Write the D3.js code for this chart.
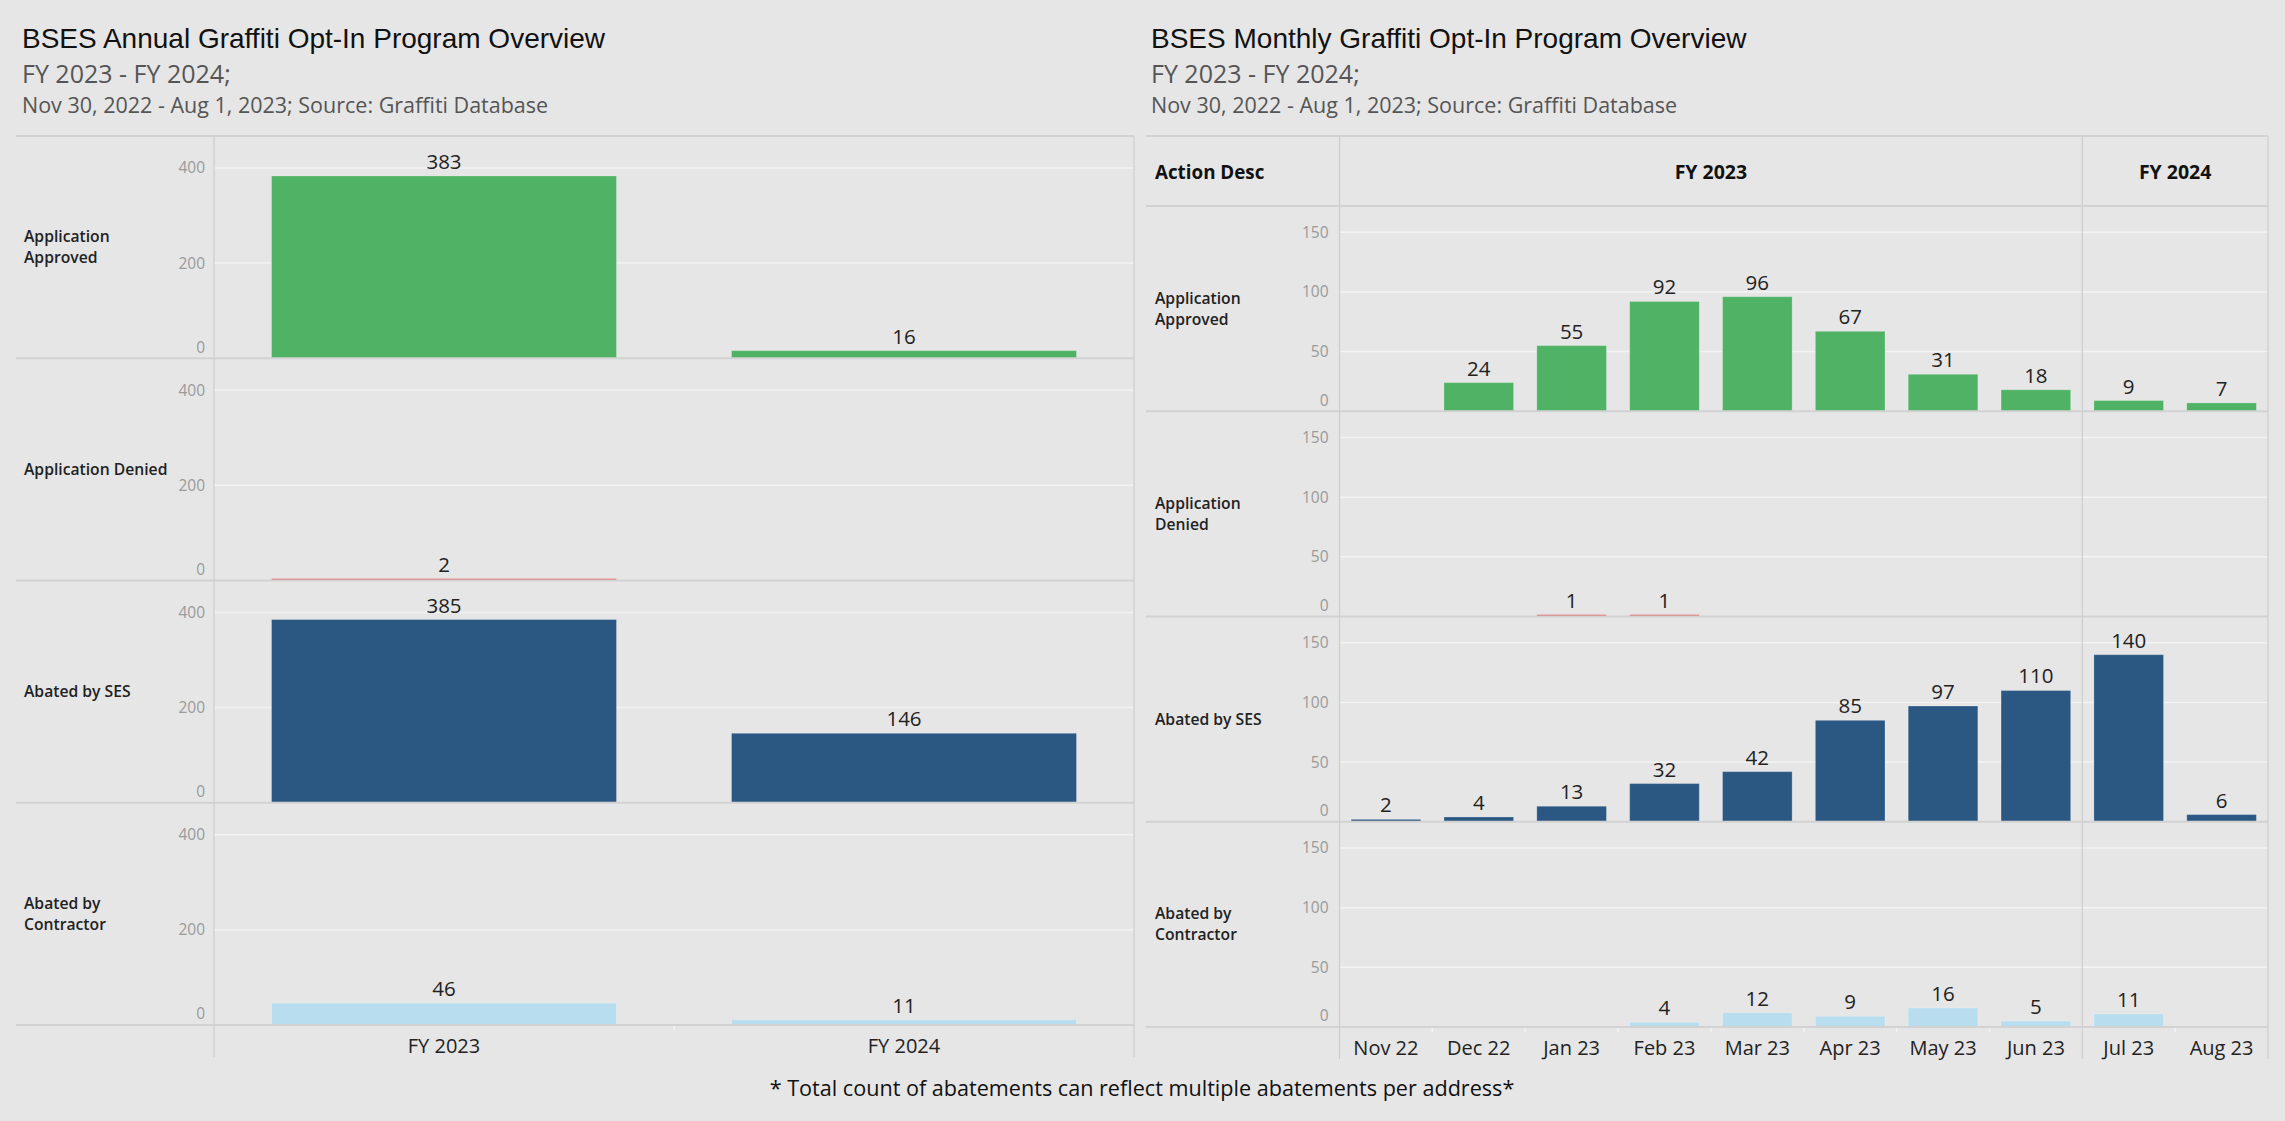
<!DOCTYPE html>
<html>
<head>
<meta charset="utf-8">
<script src="https://cdn.jsdelivr.net/npm/d3@7"></script>
<style>
html,body{margin:0;padding:0;background:#e6e6e6;}
svg{display:block;}
</style>
</head>
<body>
<svg id="chart" width="2285" height="1121"></svg>
<script>
// ---------- DATA ----------
const actions = ["Application Approved", "Application Denied", "Abated by SES", "Abated by Contractor"];
const actionLabelLines = [["Application", "Approved"], ["Application Denied"], ["Abated by SES"], ["Abated by", "Contractor"]];
const actionLabelLinesMonthly = [["Application", "Approved"], ["Application", "Denied"], ["Abated by SES"], ["Abated by", "Contractor"]];

const fiscalYears = ["FY 2023", "FY 2024"];
const annualApproved = [383, 16];
const annualDenied = [2, null];
const annualSES = [385, 146];
const annualContractor = [46, 11];

const months = ["Nov 22", "Dec 22", "Jan 23", "Feb 23", "Mar 23", "Apr 23", "May 23", "Jun 23", "Jul 23", "Aug 23"];
const monthFY = ["FY 2023", "FY 2023", "FY 2023", "FY 2023", "FY 2023", "FY 2023", "FY 2023", "FY 2023", "FY 2024", "FY 2024"];
const monthlyApproved = [null, 24, 55, 92, 96, 67, 31, 18, 9, 7];
const monthlyDenied = [null, null, 1, 1, null, null, null, null, null, null];
const monthlySES = [2, 4, 13, 32, 42, 85, 97, 110, 140, 6];
const monthlyContractor = [null, null, null, 4, 12, 9, 16, 5, 11, null];

const annualTicks = [0, 200, 400];
const monthlyTicks = [0, 50, 100, 150];

const colors = ["#4fb264", "#e0676a", "#2b5783", "#b8ddef"];

// ---------- STYLE ----------
const FONT = "'Open Sans', Lato, sans-serif";
const svg = d3.select("#chart");
const BG = "#e6e6e6";
svg.append("rect").attr("width", 2285).attr("height", 1121).attr("fill", BG);

function titles(x, title) {
  svg.append("text").attr("x", x).attr("y", 48).text(title)
    .attr("font-family", "'Liberation Sans', Arial, sans-serif").attr("font-size", 28).attr("fill", "#111");
  svg.append("text").attr("x", x).attr("y", 83).text("FY 2023 - FY 2024;")
    .attr("font-family", FONT).attr("font-size", 25).attr("fill", "#555");
  svg.append("text").attr("x", x).attr("y", 113).text("Nov 30, 2022 - Aug 1, 2023; Source: Graffiti Database")
    .attr("font-family", FONT).attr("font-size", 21.5).attr("fill", "#555");
}

function panel(cfg) {
  const g = svg.append("g");
  const nRows = cfg.series.length;
  const rowH = (cfg.bottom - cfg.rowsTop) / nRows;
  const x = d3.scaleBand().domain(cfg.cats).range([cfg.axisX, cfg.right]).paddingInner(0.25).paddingOuter(0.125);
  const xb = d3.scaleBand().domain(cfg.cats).range([cfg.axisX, cfg.right]);

  // top border
  g.append("line").attr("x1", cfg.left).attr("x2", cfg.right).attr("y1", cfg.top).attr("y2", cfg.top)
    .attr("stroke", "#d2d2d2").attr("stroke-width", 2);

  cfg.series.forEach((vals, r) => {
    const y0 = cfg.rowsTop + r * rowH;
    const y1 = y0 + rowH;
    const y = d3.scaleLinear().domain([0, cfg.ymax]).range([y1, y0]);
    const row = g.append("g");

    // gridlines
    row.selectAll("line.grid").data(cfg.ticks.filter(t => t > 0)).join("line")
      .attr("x1", cfg.axisX).attr("x2", cfg.right)
      .attr("y1", d => y(d)).attr("y2", d => y(d))
      .attr("stroke", "#f3f3f3").attr("stroke-width", 1.5);

    // y axis tick labels
    const ax = d3.axisLeft(y).tickValues(cfg.ticks).tickSize(0).tickPadding(cfg.tickPad);
    const axg = row.append("g").attr("transform", `translate(${cfg.axisX},0)`).call(ax);
    axg.select(".domain").remove();
    axg.selectAll("text").attr("font-family", FONT).attr("font-size", 15.5).attr("fill", "#9a9a9a");
    axg.selectAll(".tick").filter(d => d === 0).select("text").attr("y", -11);

    // bars
    const data = cfg.cats.map((c, i) => ({c, v: vals[i]})).filter(d => d.v != null);
    row.selectAll("rect").data(data).join("rect")
      .attr("x", d => x(d.c)).attr("width", x.bandwidth())
      .attr("y", d => Math.min(y(d.v), y1 - 2)).attr("height", d => Math.max(y1 - y(d.v), 2))
      .attr("fill", cfg.colors[r])
      .attr("stroke", "#ffffff").attr("stroke-opacity", 0.25).attr("stroke-width", 1);

    // value labels
    row.selectAll("text.val").data(data).join("text").attr("class", "val")
      .attr("x", d => x(d.c) + x.bandwidth() / 2)
      .attr("y", d => Math.min(y(d.v), y1 - 2) - 7)
      .attr("text-anchor", "middle").attr("font-family", FONT).attr("font-size", 20.5).attr("fill", "#222")
      .text(d => d.v);

    // row label
    const lines = cfg.labels[r];
    const lh = 21;
    const cy = (y0 + y1) / 2;
    lines.forEach((t, k) => {
      row.append("text").attr("x", cfg.labelX)
        .attr("y", cy + (k - (lines.length - 1) / 2) * lh)
        .attr("dy", "0.35em")
        .attr("font-family", FONT).attr("font-size", 15.7).attr("font-weight", 600).attr("fill", "#222")
        .text(t);
    });

    // row bottom separator
    g.append("line").attr("x1", cfg.left).attr("x2", cfg.right).attr("y1", y1).attr("y2", y1)
      .attr("stroke", "#d2d2d2").attr("stroke-width", 2);
  });

  // small ticks at band boundaries under the axis
  g.selectAll("line.btick").data(cfg.cats.slice(1)).join("line")
    .attr("x1", d => xb(d)).attr("x2", d => xb(d))
    .attr("y1", cfg.bottom + 1).attr("y2", cfg.bottom + 5)
    .attr("stroke", "#f5f5f5").attr("stroke-width", 1.5);

  // x axis labels
  const xa = d3.axisBottom(x).tickSize(0).tickPadding(14);
  const xg = g.append("g").attr("transform", `translate(0,${cfg.bottom})`).call(xa);
  xg.select(".domain").remove();
  xg.selectAll("text").attr("font-family", FONT).attr("font-size", 20).attr("fill", "#222");

  // vertical lines
  const vlines = [cfg.axisX, cfg.right].concat(cfg.extraV || []);
  vlines.forEach(vx => {
    g.append("line").attr("x1", vx).attr("x2", vx).attr("y1", cfg.top).attr("y2", cfg.bottom + 32)
      .attr("stroke", "#cdcdcd").attr("stroke-width", 1.2);
  });
  return {x, xb};
}

// ---------- LEFT PANEL ----------
titles(22, "BSES Annual Graffiti Opt-In Program Overview");
panel({
  cats: fiscalYears, left: 16, labelX: 24, axisX: 214, right: 1134,
  top: 136, rowsTop: 136, bottom: 1025, ymax: 467, ticks: annualTicks, tickPad: 9,
  series: [annualApproved, annualDenied, annualSES, annualContractor],
  labels: actionLabelLines, colors
});

// ---------- RIGHT PANEL ----------
titles(1151, "BSES Monthly Graffiti Opt-In Program Overview");
const rightCfg = {
  cats: months, left: 1146, labelX: 1155, axisX: 1339.5, right: 2268,
  top: 136, rowsTop: 206, bottom: 1027, ymax: 172, ticks: monthlyTicks, tickPad: 11,
  series: [monthlyApproved, monthlyDenied, monthlySES, monthlyContractor],
  labels: actionLabelLinesMonthly, colors
};
const fyStart = months[monthFY.indexOf("FY 2024")];
const xbR = d3.scaleBand().domain(months).range([rightCfg.axisX, rightCfg.right]);
rightCfg.extraV = [xbR(fyStart)];
panel(rightCfg);

// header row (right)
svg.append("text").attr("x", 1155).attr("y", 172).attr("dy", "0.35em").text("Action Desc")
  .attr("font-family", FONT).attr("font-size", 18.8).attr("font-weight", 700).attr("fill", "#111");
fiscalYears.forEach(fy => {
  const ms = months.filter((m, i) => monthFY[i] === fy);
  const a = xbR(ms[0]), b = xbR(ms[ms.length - 1]) + xbR.bandwidth();
  svg.append("text").attr("x", (a + b) / 2).attr("y", 172).attr("dy", "0.35em").attr("text-anchor", "middle")
    .text(fy).attr("font-family", FONT).attr("font-size", 19.5).attr("font-weight", 700).attr("fill", "#111");
});
svg.append("line").attr("x1", 1146).attr("x2", 2268).attr("y1", 206).attr("y2", 206)
  .attr("stroke", "#d2d2d2").attr("stroke-width", 2);

// footnote
svg.append("text").attr("x", 1142).attr("y", 1088).attr("dy", "0.35em").attr("text-anchor", "middle")
  .text("* Total count of abatements can reflect multiple abatements per address*")
  .attr("font-family", FONT).attr("font-size", 21.6).attr("font-weight", 500).attr("fill", "#111");
</script>
</body>
</html>
